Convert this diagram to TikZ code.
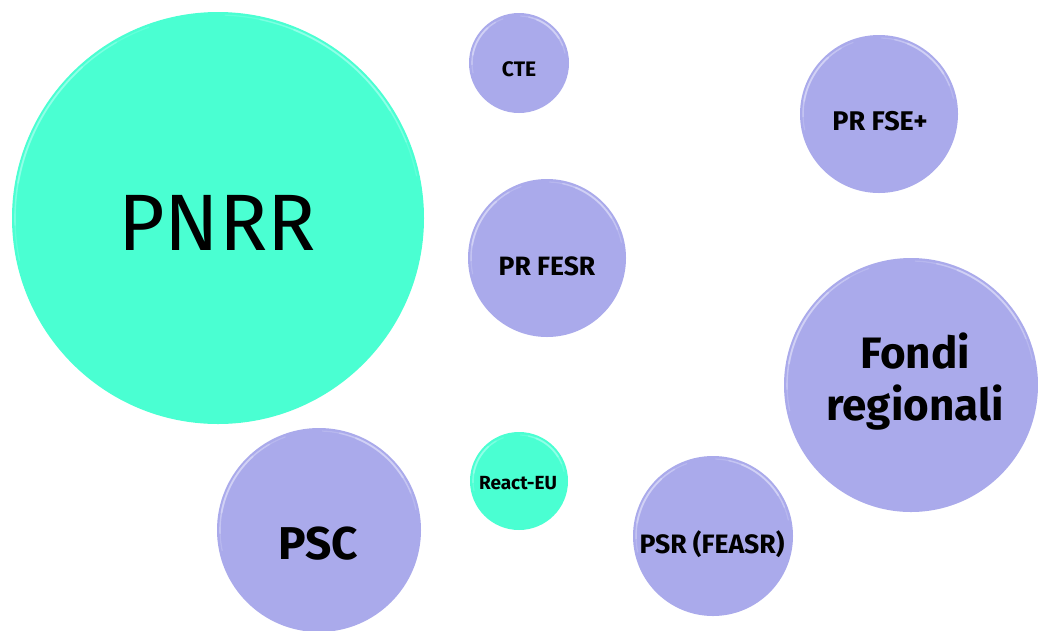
\documentclass[tikz,border=0pt]{standalone}
\usepackage{fontspec}
\setmainfont{Fira Sans}
\definecolor{aqua}{RGB}{74,255,210}
\definecolor{aqualight}{RGB}{170,255,240}
\definecolor{lav}{RGB}{170,170,235}
\definecolor{lavlight}{RGB}{225,225,250}
\tikzset{
  bubble/.style={circle, inner sep=0pt},
  lavbubble/.style={bubble, fill=lav},
  aquabubble/.style={bubble, fill=aqua},
  tag/.style={inner sep=0pt, anchor=base, text=black},
}
% soft light rim along the upper-right and lower-left edges of a bubble
% #1 node name, #2 radius, #3 rim colour
\newcommand{\rimlight}[3]{%
  \foreach \w/\o/\a/\b in {1.2/0.25/-88/-12, 1.6/0.35/-78/-22, 2.0/0.45/-68/-32,
                            1.2/0.25/168/250, 1.6/0.35/178/240, 2.0/0.45/190/228}{%
    \draw[draw=#3, line width=\w pt, opacity=\o, line cap=round]
      ([shift={(\a:#2-3)}]#1.center) arc[start angle=\a, end angle=\b, radius=#2-3];
  }%
}
\newcommand{\fsz}[1]{\fontsize{#1}{#1}\selectfont}
\begin{document}
\begin{tikzpicture}[x=1pt, y=-1pt]
  \useasboundingbox (0,0) rectangle (1038,630);
  \fill[white] (0,0) rectangle (1038,630);

  % bubbles
  \node[aquabubble, minimum size=412pt] (pnrr)   at (218,218) {};
  \node[lavbubble,  minimum size=100pt] (cte)    at (519,63)  {};
  \node[lavbubble,  minimum size=158pt] (prfse)  at (879,114) {};
  \node[lavbubble,  minimum size=158pt] (prfesr) at (547,258) {};
  \node[lavbubble,  minimum size=254pt] (fondi)  at (911,385) {};
  \node[lavbubble,  minimum size=204pt] (psc)    at (319,530) {};
  \node[aquabubble, minimum size=98pt]  (react)  at (519,481) {};
  \node[lavbubble,  minimum size=160pt] (psr)    at (713,536) {};

  \rimlight{pnrr}{206}{aqualight}
  \rimlight{cte}{50}{lavlight}
  \rimlight{prfse}{79}{lavlight}
  \rimlight{prfesr}{79}{lavlight}
  \rimlight{fondi}{127}{lavlight}
  \rimlight{psc}{102}{lavlight}
  \rimlight{react}{49}{aqualight}
  \rimlight{psr}{80}{lavlight}

  % labels, set on their baselines
  \node[tag, font=\fsz{80}] (pnrr-t) at (217,250) {PNRR};
  \node[tag, font=\bfseries\fsz{21}] (cte-t) at (519,76) {CTE};
  \node[tag, font=\bfseries\fsz{27}] (prfse-t) at (880,130) {PR FSE+};
  \node[tag, font=\bfseries\fsz{26.5}] (prfesr-t) at (547,275) {PR FESR};
  \node[tag, font=\bfseries\fsz{44}] (fondi-t1) at (915,368) {Fondi};
  \node[tag, font=\bfseries\fsz{44}] (fondi-t2) at (915,420) {regionali};
  \node[tag, font=\bfseries\fsz{46}] (psc-t) at (318,559) {PSC};
  \node[tag, font=\bfseries\fsz{19}] (react-t) at (518,489) {React-EU};
  \node[tag, font=\bfseries\fsz{26.6}] (psr-t) at (712,553) {PSR (FEASR)};
\end{tikzpicture}
\end{document}
